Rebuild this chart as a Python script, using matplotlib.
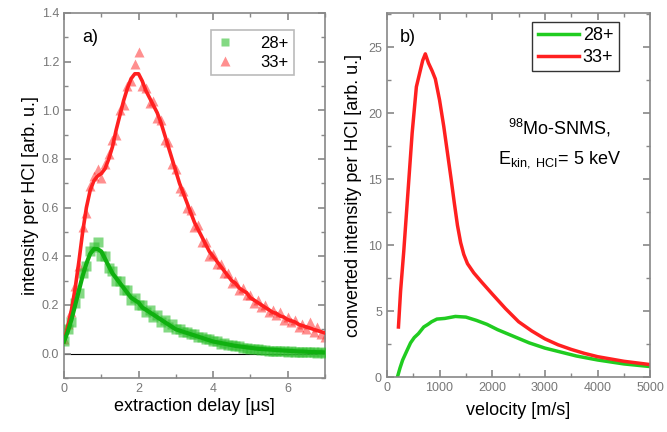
"""Two-panel figure: extraction delay spectra (a) and converted velocity distributions (b)."""
import matplotlib.pyplot as plt
from matplotlib.ticker import AutoMinorLocator, MultipleLocator

plt.rcParams["font.family"] = ["Liberation Sans", "DejaVu Sans"]
plt.rcParams["mathtext.fontset"] = "custom"
plt.rcParams["mathtext.rm"] = "Liberation Sans"
plt.rcParams["mathtext.it"] = "Liberation Sans"

# ---- panel a: extraction delay [us], step 0.1 ----
delay = [i / 10 for i in range(71)]

red_pts = [0.06, 0.12, 0.17, 0.28, 0.36, 0.52, 0.58, 0.69, 0.73, 0.76,
           0.72, 0.78, 0.82, 0.88, 0.90, 1.00, 1.02, 1.10, 1.12, 1.19,
           1.24, 1.10, 1.09, 1.03, 1.04, 0.97, 0.96, 0.88, 0.87, 0.78,
           0.76, 0.68, 0.67, 0.60, 0.59, 0.52, 0.53, 0.46, 0.46, 0.40,
           0.41, 0.37, 0.37, 0.33, 0.33, 0.29, 0.30, 0.26, 0.27, 0.24,
           0.24, 0.21, 0.22, 0.19, 0.20, 0.17, 0.18, 0.16, 0.17, 0.14,
           0.15, 0.13, 0.14, 0.11, 0.12, 0.10, 0.13, 0.09, 0.11, 0.08, 0.07]
red_fit = [0.05, 0.11, 0.18, 0.27, 0.38, 0.50, 0.60, 0.67, 0.71, 0.73,
           0.74, 0.76, 0.80, 0.85, 0.92, 0.98, 1.04, 1.09, 1.13, 1.15,
           1.15, 1.12, 1.08, 1.05, 1.02, 0.99, 0.95, 0.90, 0.85, 0.80,
           0.75, 0.70, 0.66, 0.62, 0.58, 0.54, 0.51, 0.48, 0.45, 0.42,
           0.40, 0.38, 0.36, 0.34, 0.32, 0.30, 0.29, 0.27, 0.26, 0.25,
           0.23, 0.22, 0.21, 0.20, 0.19, 0.18, 0.17, 0.165, 0.155, 0.15,
           0.14, 0.135, 0.13, 0.12, 0.115, 0.11, 0.105, 0.10, 0.095, 0.09, 0.085]

green_pts = [0.05, 0.10, 0.13, 0.21, 0.25, 0.33, 0.36, 0.42, 0.44, 0.46,
             0.40, 0.40, 0.35, 0.34, 0.30, 0.30, 0.26, 0.26, 0.22, 0.23,
             0.20, 0.20, 0.17, 0.18, 0.15, 0.16, 0.13, 0.14, 0.11, 0.12,
             0.10, 0.10, 0.09, 0.09, 0.08, 0.08, 0.07, 0.07, 0.06, 0.06,
             0.05, 0.05, 0.04, 0.045, 0.035, 0.035, 0.03, 0.03, 0.025, 0.025,
             0.02, 0.02, 0.018, 0.015, 0.015, 0.012, 0.012, 0.01, 0.01, 0.01,
             0.008, 0.01, 0.006, 0.008, 0.005, 0.007, 0.005, 0.006, 0.004, 0.005, 0.004]
green_fit = [0.05, 0.09, 0.14, 0.20, 0.26, 0.32, 0.37, 0.41, 0.43, 0.43,
             0.42, 0.39, 0.36, 0.33, 0.31, 0.29, 0.27, 0.25, 0.23, 0.22,
             0.21, 0.19, 0.18, 0.17, 0.16, 0.15, 0.14, 0.13, 0.12, 0.11,
             0.10, 0.095, 0.09, 0.085, 0.08, 0.075, 0.07, 0.065, 0.06, 0.055,
             0.05, 0.047, 0.044, 0.041, 0.038, 0.035, 0.032, 0.03, 0.028, 0.026,
             0.024, 0.022, 0.02, 0.019, 0.018, 0.017, 0.016, 0.015, 0.014, 0.013,
             0.012, 0.011, 0.01, 0.009, 0.009, 0.008, 0.007, 0.007, 0.006, 0.006, 0.005]

# ---- panel b: velocity [m/s] ----
vel_red = [220, 260, 320, 400, 480, 560, 620, 680, 730, 790, 860, 920, 1000,
           1080, 1150, 1220, 1280, 1340, 1400, 1460, 1530, 1650, 1800, 2000,
           2250, 2500, 2750, 3000, 3250, 3500, 3750, 4000, 4500, 5000]
int_red = [3.8, 6.5, 9.5, 14.0, 18.5, 22.0, 23.0, 24.0, 24.5, 23.8, 23.2, 22.6, 21.0,
           19.0, 17.0, 15.0, 13.2, 11.5, 10.2, 9.3, 8.6, 7.9, 7.2, 6.3,
           5.2, 4.2, 3.5, 2.9, 2.45, 2.1, 1.8, 1.55, 1.2, 0.95]

vel_green = [200, 250, 300, 380, 450, 520, 600, 700, 780, 850, 950, 1100,
             1300, 1500, 1700, 1900, 2100, 2400, 2700, 3000, 3300, 3600,
             4000, 4500, 5000]
int_green = [0.0, 0.7, 1.3, 2.0, 2.6, 3.0, 3.3, 3.8, 4.0, 4.2, 4.4, 4.45,
             4.6, 4.55, 4.3, 4.0, 3.6, 3.1, 2.6, 2.2, 1.9, 1.6,
             1.3, 1.0, 0.8]

RED = "#ff2020"
GREEN = "#20cc20"
FRAME = "#888888"


def style_axes(ax):
    for sp in ax.spines.values():
        sp.set_color(FRAME)
        sp.set_linewidth(1.2)
    ax.tick_params(which="both", direction="in", top=True, right=True,
                   color=FRAME, labelcolor="#777777", labelsize=9)
    ax.tick_params(which="major", length=5, width=1.2)
    ax.tick_params(which="minor", length=3, width=1.0)
    ax.xaxis.set_minor_locator(AutoMinorLocator(2))
    ax.yaxis.set_minor_locator(AutoMinorLocator(2))


fig = plt.figure(figsize=(6.67, 4.32), dpi=100)
ax1 = fig.add_axes([0.096, 0.125, 0.391, 0.845])
ax2 = fig.add_axes([0.580, 0.127, 0.395, 0.843])

# panel a
ax1.axhline(0, color="black", lw=0.8, zorder=1)
ax1.plot(delay, red_pts, "^", color=RED, ms=7.5, alpha=0.5, mec="none", label="33+", zorder=2)
ax1.plot(delay, green_pts, "s", color="#30c030", ms=6.5, alpha=0.6, mec="none", label="28+", zorder=3)
ax1.plot(delay, red_fit, color=RED, lw=2.6, zorder=4)
ax1.plot(delay, green_fit, color="#10b010", lw=3.0, zorder=5)
ax1.set_xlim(0, 7)
ax1.set_ylim(-0.1, 1.4)
ax1.xaxis.set_major_locator(MultipleLocator(2))
ax1.yaxis.set_major_locator(MultipleLocator(0.2))
ax1.yaxis.set_major_formatter(lambda v, p: f"{v:.1f}")
style_axes(ax1)
ax1.set_xlabel("extraction delay [µs]", fontsize=13, labelpad=2)
ax1.set_ylabel("intensity per HCI [arb. u.]", fontsize=13, labelpad=2)
ax1.text(0.07, 0.955, "a)", transform=ax1.transAxes, fontsize=13, va="top")
h, l = ax1.get_legend_handles_labels()
leg1 = ax1.legend(h[::-1], l[::-1], loc="upper right", bbox_to_anchor=(0.915, 0.975),
                  fontsize=12, frameon=True, fancybox=False, edgecolor="#aaaaaa",
                  handlelength=1.0, handletextpad=1.6, borderpad=0.35,
                  labelspacing=0.2, markerscale=0.9)
leg1.get_frame().set_linewidth(1.2)

# panel b
ax2.plot(vel_green, int_green, color=GREEN, lw=2.5, label="28+")
ax2.plot(vel_red, int_red, color=RED, lw=2.5, label="33+")
ax2.set_xlim(0, 5000)
ax2.set_ylim(0, 27.6)
ax2.xaxis.set_major_locator(MultipleLocator(1000))
ax2.yaxis.set_major_locator(MultipleLocator(5))
style_axes(ax2)
ax2.set_xlabel("velocity [m/s]", fontsize=13, labelpad=6)
ax2.set_ylabel("converted intensity per HCI [arb. u.]", fontsize=13, labelpad=4)
ax2.text(0.05, 0.955, "b)", transform=ax2.transAxes, fontsize=13, va="top")
ax2.text(0.655, 0.665, "$^{98}$Mo-SNMS,", transform=ax2.transAxes, fontsize=13, ha="center")
ax2.text(0.655, 0.588, "E$_{\\mathrm{kin,\\ HCI}}$= 5 keV", transform=ax2.transAxes,
         fontsize=13, ha="center")
leg2 = ax2.legend(loc="upper right", bbox_to_anchor=(0.88, 0.975), fontsize=13,
                  frameon=True, fancybox=False, edgecolor="black", handlelength=2.3,
                  handletextpad=0.2, borderpad=0.3, labelspacing=0.25, borderaxespad=0)
leg2.get_frame().set_linewidth(1.0)

fig.savefig("out.png", dpi=100)
